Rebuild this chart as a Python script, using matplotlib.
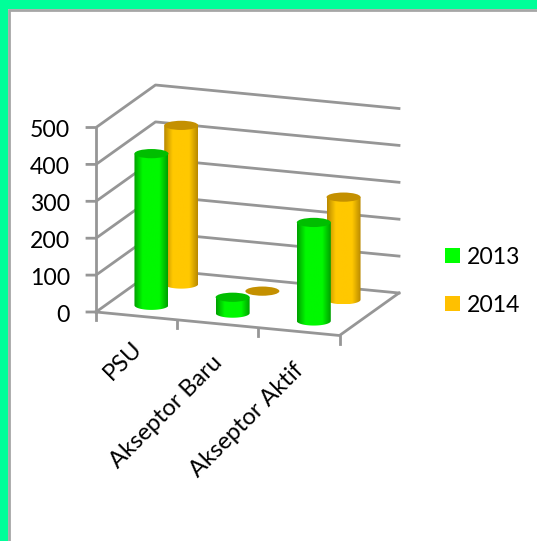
#!/usr/bin/env python3
"""Pseudo 3D cylinder chart, drawn on a flat axes with an oblique projection"""

import numpy as np
import matplotlib
matplotlib.use('Agg')
import matplotlib.pyplot as plt
from matplotlib.colors import LinearSegmentedColormap
from matplotlib.patches import Ellipse, PathPatch, Rectangle
from matplotlib.path import Path

matplotlib.rcParams['font.family'] = ['Lato', 'DejaVu Sans']

categories = ['PSU', 'Akseptor Baru', 'Akseptor Aktif']
series_names = ['2013', '2014']
values_2013 = [411, 43, 267]
values_2014 = [430, 2, 278]
value_ticks = [0, 100, 200, 300, 400, 500]

GRID = '#969696'
ORIGIN = (96.0, 312.0)
WIDTH_VEC = (243.5, 23.5)
DEPTH_VEC = (59.5, -42.5)
PX_PER_UNIT = 184.5 / 500
RX, RY = 17.0, 4.6
LW = 2.0
FS = 16.6


def project(cat, depth, value=0.0):
    """cat in 0..3 along the floor front, depth in 0..1 towards the back wall"""
    x = ORIGIN[0] + cat / 3 * WIDTH_VEC[0] + depth * DEPTH_VEC[0]
    y = ORIGIN[1] + cat / 3 * WIDTH_VEC[1] + depth * DEPTH_VEC[1] - value * PX_PER_UNIT
    return x, y


def draw_cylinder(ax, cat, depth, value, edge, mid, cap, zorder):
    x, y_base = project(cat, depth)
    _, y_top = project(cat, depth, value)
    if value > 5:
        # body outline: straight sides with a rounded bottom
        t = np.linspace(np.pi, 0, 40)
        bottom = np.column_stack([x + RX * np.cos(t), y_base + RY * np.sin(t)])
        verts = np.vstack([[x - RX, y_top], bottom, [x + RX, y_top], [x - RX, y_top]])
        clip = PathPatch(Path(verts), transform=ax.transData, fc='none', ec='none')
        ax.add_patch(clip)
        cmap = LinearSegmentedColormap.from_list('cyl', [(0, edge), (0.25, mid), (0.75, mid), (1, edge)])
        im = ax.imshow(np.linspace(0, 1, 64)[None, :], cmap=cmap, aspect='auto',
                       extent=(x - RX, x + RX, y_base + RY, y_top), zorder=zorder)
        im.set_clip_path(clip)
    ax.add_patch(Ellipse((x, y_top), 2 * RX, 2 * RY, fc=cap, ec='none', zorder=zorder + 0.1))


fig = plt.figure(figsize=(5.37, 5.41), dpi=100, facecolor='white')
ax = fig.add_axes([0, 0, 1, 1])
ax.set_axis_off()

# slide frame
ax.add_patch(Rectangle((0, 0), 537, 9, fc='#00FF99', ec='none', zorder=0))
ax.add_patch(Rectangle((0, 0), 8, 541, fc='#00FF99', ec='none', zorder=0))
ax.plot([9.0, 9.0, 537], [541, 10.0, 10.0], color='#a6a6a6', lw=2, zorder=0.5, solid_joinstyle='miter')

# walls and floor
for v in value_ticks:
    x0, y0 = project(0, 0, v)
    pts = [(x0 - 9, y0), (x0, y0), project(0, 1, v), project(3, 1, v)]
    ax.plot(*zip(*pts), color=GRID, lw=LW, zorder=1, solid_joinstyle='round')
    ax.text(x0 - 26, y0 + 1, str(v), ha='right', va='center_baseline', fontsize=FS, color='black')
ax.plot(*zip(project(0, 0, 0), project(0, 0, 500)), color=GRID, lw=LW, zorder=1)

floor = [project(0, 0), project(3, 0), project(3, 1)]
ax.plot(*zip(*floor), color=GRID, lw=LW, zorder=1)
for c in range(4):
    x0, y0 = project(c, 0)
    ax.plot([x0, x0], [y0, y0 + 8], color=GRID, lw=LW, zorder=1)

# cylinders, back row first
for i in range(len(categories)):
    draw_cylinder(ax, i + 0.5, 0.75, values_2014[i], '#b98a00', '#FFC800', '#C49000', 3)
for i in range(len(categories)):
    draw_cylinder(ax, i + 0.5, 0.25, values_2013[i], '#00A000', '#00F800', '#00BE00', 4)

# category labels, the first one sits a bit higher in the original
for i, name in enumerate(categories):
    x, y = project(i + 0.5, 0)
    nudge = (-5, 22) if i == 0 else (-6, 28)
    ax.text(x + nudge[0], y + nudge[1], name, rotation=45, rotation_mode='anchor', ha='right', va='top',
            fontsize=17, color='black')

# legend
for name, color, y in zip(series_names, ['#00FF00', '#FFC000'], [255.5, 303.5]):
    ax.add_patch(Rectangle((445, y - 7.5), 15, 15, fc=color, ec='none', zorder=2))
    ax.text(466.5, y, name, ha='left', va='center_baseline', fontsize=FS, color='black')

ax.set_xlim(0, 537)
ax.set_ylim(541, 0)
fig.savefig('out.png', dpi=100)
